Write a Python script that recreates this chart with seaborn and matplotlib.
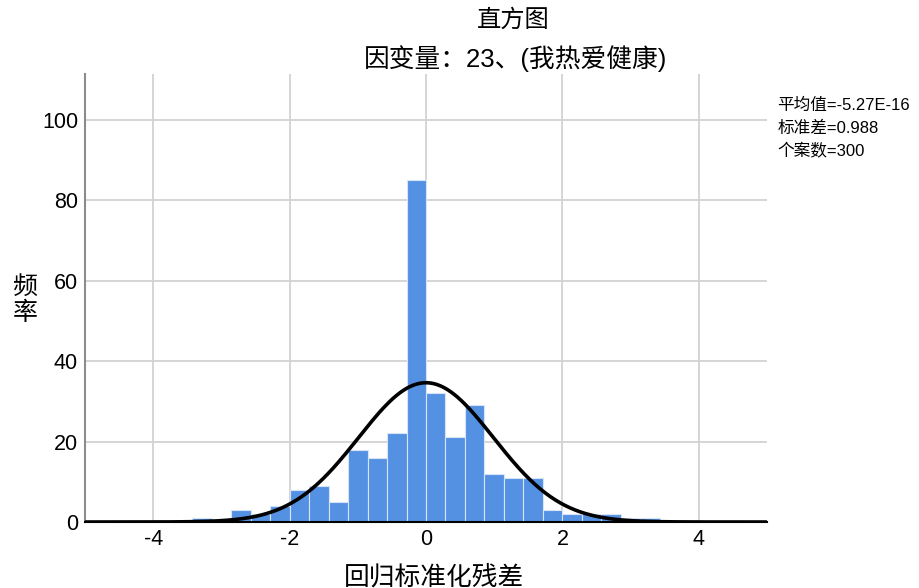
import numpy as np
import pandas as pd
import seaborn as sns
import matplotlib.pyplot as plt

# 回归标准化残差直方图 (bin width 2/7)
bin_width = 2 / 7
bin_index = list(range(-12, 12))
counts = [1, 0, 3, 2, 4, 8, 9, 5, 18, 16, 22, 85,
          32, 21, 29, 12, 11, 11, 3, 2, 2, 2, 1, 1]

mean_val = -5.27e-16
std_val = 0.988
n_cases = 300

x_ticks = [-4, -2, 0, 2, 4]
y_ticks = [0, 20, 40, 60, 80, 100]

sns.set_style('white')
plt.rcParams['font.family'] = ['Liberation Sans', 'Noto Sans CJK SC', 'DejaVu Sans']
plt.rcParams['axes.unicode_minus'] = False
plt.rcParams['text.color'] = 'black'
plt.rcParams['axes.labelcolor'] = 'black'
plt.rcParams['xtick.color'] = 'black'
plt.rcParams['ytick.color'] = 'black'

df = pd.DataFrame({'center': [(i + 0.5) * bin_width for i in bin_index],
                   'count': counts})
edges = [i * bin_width for i in bin_index] + [(bin_index[-1] + 1) * bin_width]

fig = plt.figure(figsize=(9.2, 5.88), dpi=100, facecolor='white')
ax = fig.add_axes([0.0924, 0.1122, 0.7413, 0.7619])

sns.histplot(data=df, x='center', weights='count', bins=edges, ax=ax,
             color='#5591e2', alpha=1, edgecolor='#d6e4f6', linewidth=0.8,
             zorder=2)

# 正态曲线
xs = np.linspace(-5, 5, 400)
ys = n_cases * bin_width / (std_val * np.sqrt(2 * np.pi)) * \
    np.exp(-(xs - mean_val) ** 2 / (2 * std_val ** 2))
sns.lineplot(x=xs, y=ys, ax=ax, color='black', linewidth=2.6, zorder=3)

ax.set_xlim(-5, 5)
ax.set_ylim(0, 111.3)
ax.set_xticks(x_ticks)
ax.set_yticks(y_ticks)
ax.set_xticklabels([str(t) for t in x_ticks], fontsize=15.5)
ax.set_yticklabels([str(t) for t in y_ticks], fontsize=15.5)
ax.tick_params(length=0, pad=5)
ax.grid(True, color='#d2d2d2', linewidth=1.3, zorder=0)
ax.set_axisbelow(True)

for side in ['top', 'right']:
    ax.spines[side].set_visible(False)
ax.spines['left'].set_color('#8c8c8c')
ax.spines['left'].set_linewidth(1.5)
ax.spines['bottom'].set_color('black')
ax.spines['bottom'].set_linewidth(1.5)

ax.set_xlabel('回归标准化残差', fontsize=18.5)
ax.xaxis.set_label_coords(0.512, -0.095)
ax.set_ylabel('')
fig.text(0.027, 0.49, '频\n率', fontsize=18, ha='center', va='center',
         linespacing=1.1)

fig.text(0.558, 0.966, '直方图', fontsize=17.5, ha='center', va='center')
fig.text(0.560, 0.900, '因变量：23、(我热爱健康)', fontsize=18.5,
         ha='center', va='center')

stats_lines = [f'平均值={mean_val:.2E}', f'标准差={std_val}', f'个案数={n_cases}']
for k, line in enumerate(stats_lines):
    fig.text(0.845, 0.821 - k * 0.039, line, fontsize=12, ha='left',
             va='center')

fig.savefig('out.png', dpi=100, facecolor='white')
